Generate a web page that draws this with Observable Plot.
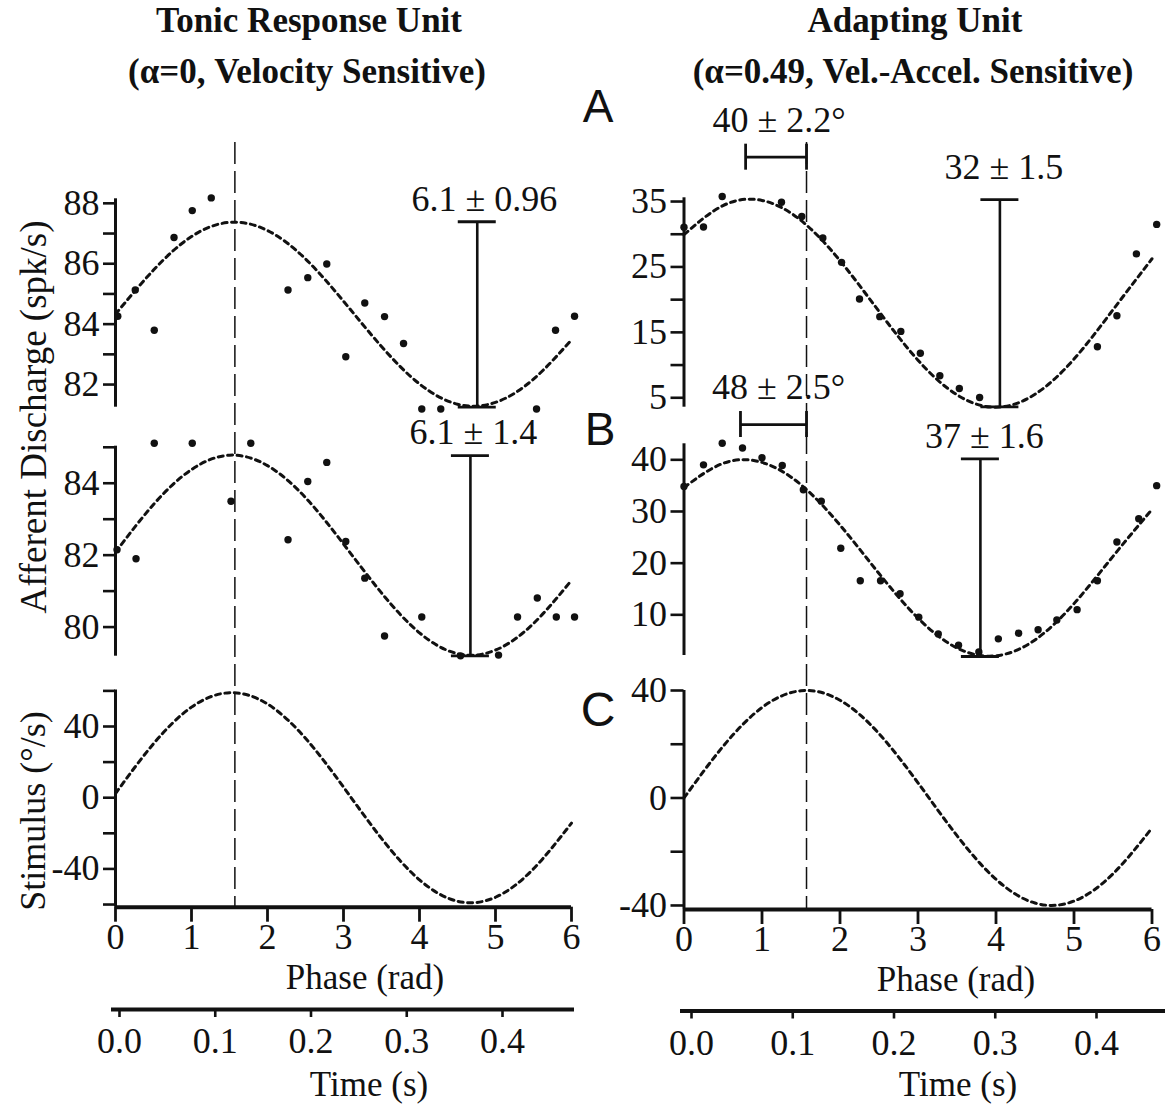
<!DOCTYPE html>
<html>
<head>
<meta charset="utf-8">
<script src="https://cdn.jsdelivr.net/npm/d3@7"></script>
<script src="https://cdn.jsdelivr.net/npm/@observablehq/plot@0.6"></script>
<style>
  html, body { margin: 0; padding: 0; background: #fff; }
  #fig { position: relative; width: 1165px; height: 1106px; overflow: hidden; background: #fff; }
  #fig svg { position: absolute; left: 0; top: 0; }
</style>
</head>
<body>
<div id="fig"></div>
<script>
// ---------------- data ----------------
const phaseTicks = [0, 1, 2, 3, 4, 5, 6];
const timeTicks = [0.0, 0.1, 0.2, 0.3, 0.4];
const stimPeakPhase = [1.5708];

// fitted curves sampled every 0.5 rad
const fitPhase = [0, 0.5, 1, 1.5, 2, 2.5, 3, 3.5, 4, 4.5, 5, 5.5, 6];
const tonicAFit = [84.33, 85.79, 86.90, 87.37, 87.10, 86.16, 84.76, 83.26, 82.02, 81.35, 81.41, 82.18, 83.48];
const tonicBFit = [82.08, 83.41, 84.38, 84.78, 84.49, 83.60, 82.31, 80.95, 79.84, 79.26, 79.36, 80.10, 81.30];
const adaptAFit = [29.93, 34.38, 35.17, 32.11, 25.96, 18.20, 10.74, 5.45, 3.55, 5.54, 10.92, 18.45, 26.25];
const adaptBFit = [34.63, 39.31, 39.50, 35.17, 27.37, 18.00, 9.37, 3.59, 2.07, 5.14, 12.17, 21.32, 30.41];
const stimLeft  = [2.36, 30.33, 50.88, 58.97, 52.63, 33.39, 5.98, -22.87, -46.15, -58.16, -55.91, -39.91, -14.27];
const stimRight = [0.00, 19.18, 33.66, 39.90, 36.37, 23.94, 5.64, -14.03, -30.27, -39.10, -38.36, -28.22, -11.18];

// measured discharge
const tonicAPhase = [0.03, 0.26, 0.51, 0.77, 1.01, 1.26, 2.27, 2.53, 2.78, 3.03, 3.28, 3.54, 3.79, 4.03, 4.28, 5.54, 5.79, 6.04];
const tonicARate  = [84.26, 85.13, 83.80, 86.87, 87.76, 88.18, 85.13, 85.54, 85.99, 82.92, 84.70, 84.25, 83.36, 81.19, 81.19, 81.19, 83.80, 84.26];
const tonicBPhase = [0.02, 0.27, 0.51, 1.01, 1.52, 1.78, 2.27, 2.53, 2.78, 3.03, 3.28, 3.54, 4.03, 4.54, 5.04, 5.29, 5.55, 5.80, 6.04];
const tonicBRate  = [82.15, 81.90, 85.11, 85.11, 83.50, 85.11, 82.43, 84.05, 84.58, 82.38, 81.36, 79.75, 80.28, 79.20, 79.22, 80.28, 80.81, 80.28, 80.28];
const adaptAPhase = [0.00, 0.25, 0.49, 1.25, 1.51, 1.78, 2.02, 2.25, 2.51, 2.78, 3.03, 3.28, 3.53, 3.79, 5.30, 5.55, 5.80, 6.06];
const adaptARate  = [31.07, 31.10, 35.77, 34.90, 32.70, 29.44, 25.70, 20.10, 17.40, 15.15, 11.80, 8.37, 6.43, 5.05, 12.80, 17.55, 27.00, 31.50];
const adaptBPhase = [0.00, 0.25, 0.49, 0.75, 1.00, 1.26, 1.53, 1.76, 2.01, 2.26, 2.52, 2.77, 3.01, 3.26, 3.52, 3.78, 4.03, 4.29, 4.54, 4.78, 5.04, 5.30, 5.55, 5.83, 6.06];
const adaptBRate  = [34.84, 39.03, 43.20, 42.30, 40.40, 38.90, 34.20, 32.00, 22.90, 16.60, 16.60, 14.10, 9.55, 6.30, 4.10, 2.80, 5.35, 6.45, 7.10, 9.00, 11.00, 16.60, 24.10, 28.60, 35.00];

// amplitude (peak-to-peak) bars and phase-lead bars
const tonicABar = [{phase: 4.76, lo: 81.25, hi: 87.39, label: "6.1 ± 0.96"}];
const tonicBBar = [{phase: 4.67, lo: 79.20, hi: 84.77, label: "6.1 ± 1.4"}];
const adaptABar = [{phase: 4.05, lo: 3.60, hi: 35.30, label: "32 ± 1.5"}];
const adaptBBar = [{phase: 3.80, lo: 1.94, hi: 40.20, label: "37 ± 1.6"}];
const adaptALead = [{from: 0.79, to: 1.5708, level: 41.78, label: "40 ± 2.2°"}];
const adaptBLead = [{from: 0.724, to: 1.5708, level: 46.83, label: "48 ± 2.5°"}];

// axis ticks and labelled ticks
const tonicATicks = [82, 83, 84, 85, 86, 87, 88], tonicALabels = [82, 84, 86, 88];
const tonicBTicks = [80, 81, 82, 83, 84, 85], tonicBLabels = [80, 82, 84];
const stimLTicks = [-60, -40, -20, 0, 20, 40, 60], stimLLabels = [-40, 0, 40];
const adaptATicks = [5, 10, 15, 20, 25, 30, 35], adaptALabels = [5, 15, 25, 35];
const adaptBTicks = [10, 20, 30, 40], adaptBLabels = [10, 20, 30, 40];
const stimRTicks = [-40, -20, 0, 20, 40], stimRLabels = [-40, 0, 40];

// ---------------- helpers ----------------
const FONT = "'Liberation Serif', 'Times New Roman', serif";
const INK = "#111";
const W = 1165, H = 1106;
const zipXY = (xs, ys) => xs.map((x, i) => ({x, y: ys[i]}));
const labelFmt = (labels) => (d) => labels.includes(d) ? String(d) : "";

function panel({xRange, yDomain, yRange, top, bottom, marks}) {
  return Plot.plot({
    width: W, height: H,
    marginLeft: xRange[0], marginRight: W - xRange[1],
    marginTop: top, marginBottom: H - bottom,
    x: {domain: [0, 6], range: xRange, axis: null},
    y: {domain: yDomain, range: yRange, axis: null},
    style: {fontFamily: FONT, fontSize: "36px", color: INK, background: "none", overflow: "visible"},
    marks
  });
}

function yAxis(dom, ticks, labels, tickSize) {
  return [
    Plot.ruleX([0], {y1: dom[0], y2: dom[1], stroke: INK, strokeWidth: 3}),
    Plot.axisY({ticks, tickFormat: labelFmt(labels), tickSize, tickPadding: 4, strokeWidth: 2.6, fontSize: 36, label: null, anchor: "left"})
  ];
}

function fitLine(ys) {
  return Plot.line(zipXY(fitPhase, ys), {x: "x", y: "y", curve: "natural", stroke: INK, strokeWidth: 3, strokeDasharray: "5,4.5"});
}

function dots(xs, ys) {
  return Plot.dot(zipXY(xs, ys), {x: "x", y: "y", r: 3.7, fill: INK, stroke: "none"});
}

function ampBar(bar, dx, dy) {
  return [
    Plot.ruleX(bar, {x: "phase", y1: "lo", y2: "hi", stroke: INK, strokeWidth: 2.6}),
    Plot.ruleY(bar, {y: "hi", x1: "phase", x2: "phase", insetLeft: -19, insetRight: -19, stroke: INK, strokeWidth: 2.8}),
    Plot.ruleY(bar, {y: "lo", x1: "phase", x2: "phase", insetLeft: -19, insetRight: -19, stroke: INK, strokeWidth: 2.8}),
    Plot.text(bar, {x: "phase", y: "hi", text: "label", dx, dy, lineAnchor: "bottom", textAnchor: "middle", fontSize: 36, fill: INK})
  ];
}

function leadBar(bar, dx, dy) {
  return [
    Plot.ruleY(bar, {y: "level", x1: "from", x2: "to", stroke: INK, strokeWidth: 2.8}),
    Plot.ruleX(bar, {x: "from", y1: "level", y2: "level", insetTop: -13, insetBottom: -13, stroke: INK, strokeWidth: 2.8}),
    Plot.ruleX(bar, {x: "to", y1: "level", y2: "level", insetTop: -13, insetBottom: -13, stroke: INK, strokeWidth: 2.8}),
    Plot.text(bar, {x: (d) => (d.from + d.to) / 2, y: "level", text: "label", dx, dy, lineAnchor: "bottom", textAnchor: "middle", fontSize: 36, fill: INK})
  ];
}

function xAxisPhase() {
  return Plot.axisX({ticks: phaseTicks, tickFormat: (d) => String(d), tickSize: 15, tickPadding: 1, strokeWidth: 2.8, fontSize: 36, label: null, anchor: "bottom"});
}

const LX = [115, 571], RX = [683.5, 1151.5];
const fig = document.getElementById("fig");

// ---- left column ----
const dA = [81.25, 88.15];
fig.appendChild(panel({xRange: LX, yDomain: dA, yRange: [406.7, 198.3], top: 198.3, bottom: 406.7, marks: [
  ...yAxis(dA, tonicATicks, tonicALabels, 12),
  fitLine(tonicAFit),
  dots(tonicAPhase, tonicARate),
  ...ampBar(tonicABar, 7, -11)
]}));

const dB = [79.19, 85.03];
fig.appendChild(panel({xRange: LX, yDomain: dB, yRange: [655.7, 445.7], top: 445.7, bottom: 655.7, marks: [
  ...yAxis(dB, tonicBTicks, tonicBLabels, 12),
  fitLine(tonicBFit),
  dots(tonicBPhase, tonicBRate),
  ...ampBar(tonicBBar, 3, -12)
]}));

const dC = [-61.5, 60.5];
fig.appendChild(panel({xRange: LX, yDomain: dC, yRange: [906.7, 689.5], top: 142, bottom: 906.7, marks: [
  Plot.ruleX(stimPeakPhase, {stroke: INK, strokeWidth: 1.5, strokeDasharray: "22,7"}),
  ...yAxis(dC, stimLTicks, stimLLabels, 12),
  Plot.ruleY([dC[0]], {stroke: INK, strokeWidth: 4}),
  xAxisPhase(),
  fitLine(stimLeft)
]}));

// ---- right column ----
const rA = [3.56, 35.57];
fig.appendChild(panel({xRange: RX, yDomain: rA, yRange: [406.7, 197.3], top: 197.3, bottom: 406.7, marks: [
  ...yAxis(rA, adaptATicks, adaptALabels, 13),
  fitLine(adaptAFit),
  dots(adaptAPhase, adaptARate),
  ...ampBar(adaptABar, 4, -21),
  ...leadBar(adaptALead, 3, -25)
]}));

const rB = [2.13, 43.1];
fig.appendChild(panel({xRange: RX, yDomain: rB, yRange: [655, 443.3], top: 443.3, bottom: 655, marks: [
  ...yAxis(rB, adaptBTicks, adaptBLabels, 13),
  fitLine(adaptBFit),
  dots(adaptBPhase, adaptBRate),
  ...ampBar(adaptBBar, 4, -11),
  ...leadBar(adaptBLead, 5, -26)
]}));

const rC = [-41.5, 40];
fig.appendChild(panel({xRange: RX, yDomain: rC, yRange: [909, 690], top: 142, bottom: 909, marks: [
  Plot.ruleX(stimPeakPhase, {stroke: INK, strokeWidth: 1.5, strokeDasharray: "22,7"}),
  ...yAxis(rC, stimRTicks, stimRLabels, 13),
  Plot.ruleY([rC[0]], {stroke: INK, strokeWidth: 4}),
  xAxisPhase(),
  fitLine(stimRight)
]}));

// ---- time axes ----
function timeAxis(lineSpan, xRange, lineY) {
  return Plot.plot({
    width: W, height: H,
    marginLeft: lineSpan[0], marginRight: W - lineSpan[1],
    marginTop: lineY - 10, marginBottom: H - lineY,
    x: {domain: [0, 0.4], range: xRange, axis: null},
    y: {domain: [0, 1], range: [lineY, lineY - 10], axis: null},
    style: {fontFamily: FONT, fontSize: "36px", color: INK, background: "none", overflow: "visible"},
    marks: [
      Plot.ruleY([0], {stroke: INK, strokeWidth: 4}),
      Plot.axisX({ticks: timeTicks, tickFormat: d3.format(".1f"), tickSize: 8, tickPadding: 10, strokeWidth: 2.6, fontSize: 36, label: null, anchor: "bottom"})
    ]
  });
}
fig.appendChild(timeAxis([111, 574], [119, 502], 1009));
fig.appendChild(timeAxis([680, 1165], [691, 1096], 1010.5));

// ---- titles, panel letters, axis titles ----
const over = d3.select(fig).append("svg").attr("width", W).attr("height", H)
  .style("font-family", FONT).style("fill", INK);
function txt(t, x, y, o = {}) {
  const e = over.append("text").text(t)
    .attr("text-anchor", o.anchor || "middle")
    .attr("font-size", o.size || 36)
    .attr("font-weight", o.weight || "normal")
    .attr("transform", `translate(${x},${y})${o.rotate ? ` rotate(${o.rotate})` : ""}`);
  if (o.family) e.attr("font-family", o.family);
  return e;
}
txt("Tonic Response Unit", 309, 32, {weight: "bold", size: 35});
txt("(α=0, Velocity Sensitive)", 307, 83, {weight: "bold", size: 35});
txt("Adapting Unit", 915, 32, {weight: "bold", size: 35});
txt("(α=0.49, Vel.-Accel. Sensitive)", 913, 83, {weight: "bold", size: 35});
const SANS = "'Liberation Sans', Arial, sans-serif";
txt("A", 598, 122, {size: 46, family: SANS});
txt("B", 600, 445, {size: 46, family: SANS});
txt("C", 598, 726, {size: 48, family: SANS});
txt("Afferent Discharge (spk/s)", 46, 417, {rotate: -90, size: 37});
txt("Stimulus (°/s)", 45, 811, {rotate: -90});
txt("Phase (rad)", 365, 989, {size: 35});
txt("Phase (rad)", 956, 991, {size: 35});
txt("Time (s)", 369, 1096, {size: 35});
txt("Time (s)", 958, 1096, {size: 35});
</script>
</body>
</html>
